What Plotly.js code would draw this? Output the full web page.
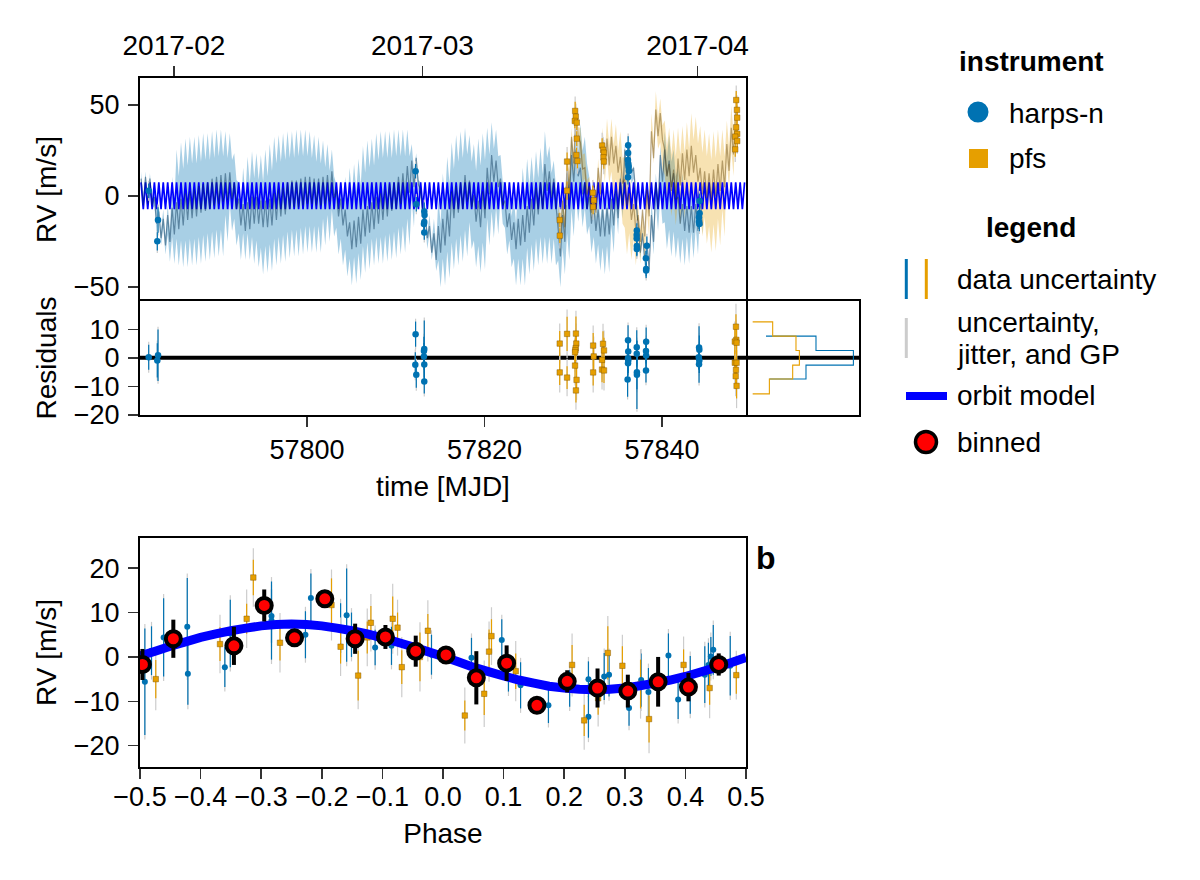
<!DOCTYPE html>
<html><head><meta charset="utf-8">
<script src="https://cdn.plot.ly/plotly-3.0.1.min.js"></script>
<style>html,body{margin:0;padding:0;background:#fff}#plot{width:1200px;height:880px}</style>
</head><body><div id="plot"></div>
<script>
const modelEpoch = 57781;
const modelDay = [.3,.55,.8,
1.05,1.3,1.55,1.8,2.05,2.3,2.55,2.8,3.05,3.3,3.55,3.8,4.05,4.3,4.55,4.8,5.05,5.3,5.55,5.8,
6.05,6.3,6.55,6.8,7.05,7.3,7.55,7.8,8.05,8.3,8.55,8.8,9.05,9.3,9.55,9.8,10.05,10.3,10.55,10.8,
11.05,11.3,11.55,11.8,12.05,12.3,12.55,12.8,13.05,13.3,13.55,13.8,14.05,14.3,14.55,14.8,15.05,15.3,15.55,15.8,
16.05,16.3,16.55,16.8,17.05,17.3,17.55,17.8,18.05,18.3,18.55,18.8,19.05,19.3,19.55,19.8,20.05,20.3,20.55,20.8,
21.05,21.3,21.55,21.8,22.05,22.3,22.55,22.8,23.05,23.3,23.55,23.8,24.05,24.3,24.55,24.8,25.05,25.3,25.55,25.8,
26.05,26.3,26.55,26.8,27.05,27.3,27.55,27.8,28.05,28.3,28.55,28.8,29.05,29.3,29.55,29.8,30.05,30.3,30.55,30.8,
31.05,31.3,31.55,31.8,32.05,32.3,32.55,32.8,33.05,33.3,33.55,33.8,34.05,34.3,34.55,34.8,35.05,35.3,35.55,35.8,
36.05,36.3,36.55,36.8,37.05,37.3,37.55,37.8,38.05,38.3,38.55,38.8,39.05,39.3,39.55,39.8,40.05,40.3,40.55,40.8,
41.05,41.3,41.55,41.8,42.05,42.3,42.55,42.8,43.05,43.3,43.55,43.8,44.05,44.3,44.55,44.8,45.05,45.3,45.55,45.8,
46.05,46.3,46.55,46.8,47.05,47.3,47.55,47.8,48.05,48.3,48.55,48.8,49.05,49.3,49.55,49.8,50.05,50.3,50.55,50.8,
51.05,51.3,51.55,51.8,52.05,52.3,52.55,52.8,53.05,53.3,53.55,53.8,54.05,54.3,54.55,54.8,55.05,55.3,55.55,55.8,
56.05,56.3,56.55,56.8,57.05,57.3,57.55,57.8,58.05,58.3,58.55,58.8,59.05,59.3,59.55,59.8,60.05,60.3,60.55,60.8,
61.05,61.3,61.55,61.8,62.05,62.3,62.55,62.8,63.05,63.3,63.55,63.8,64.05,64.3,64.55,64.8,65.05,65.3,65.55,65.8,
66.05,66.3,66.55,66.8,67.05,67.3,67.55,67.8,68.05,68.3];
const orbitPeakRV = 7.5, orbitTroughRV = -7.2;

const blueMean = [2,3,2,-8,-16,-20,-18,-14,-11,-9,
-6,-5,-4,-2,-1,0,2,3,4,5,
5.5,0,-9,-12,-11,-8,-8,-10,-10,-9,
-6,-4,-3,0,1,1,2,3,3,2,
2,3,4,6,-4,-9,-15,-22,-21,-19,
-15,-13,-11,-8,-6,-4,-1,0,3,5,
9,12,13.5,-4,-16,-24,-28,-24,-20,-15,
-5,-2,0,4,1,-7,-10,-5,8,15,
12,2,-10,-17,-22,-20,-18,-13,-9,-3,
0,10,6,2,-26,-18,5,15,18,8,
0,-8,-12,-15,-15,-14,-9,-5,2,18,
20,8,-24,-28,-33,-18,0,15,18,12,
5,-8,-12,-13,-13,-12,-9];
const blueUpper = [6,6,5,0,-12,-15,-12,3,18,22,
24,25,25,26,27,27,28,29,29,28,
27,16,0,8,14,17,16,15,18,21,
25,26,27,28,28,29,29,29,28,26,
25,23,21,18,-1,0,3,8,10,13,
20,23,24,27,28,28,28,29,29,29,
29,21,16,0,-13,-18,-20,-8,5,14,
22,26,28,30,26,21,24,27,30,33,
29,15,0,-4,-8,0,8,13,14,17,
19,28,20,12,-10,-8,10,25,32,32,
25,3,-4,-6,-7,-6,-3,0,6,21,
21,9,-22,-26,-30,-10,5,20,28,26,
18,8,5,3,-2,-4,-8];
const blueLower = [-1,0,0,-13,-20,-25,-29,-30,-31,-32,
-32,-31,-31,-30,-29,-28,-27,-26,-26,-18,
-12,-20,-28,-28,-28,-30,-32,-36,-35,-34,
-31,-30,-29,-27,-26,-26,-25,-24,-24,-24,
-24,-20,-18,-15,-25,-31,-37,-42,-41,-39,
-35,-33,-31,-30,-30,-29,-28,-27,-25,-24,
-20,-10,8,-9,-22,-28,-34,-43,-42,-38,
-33,-31,-29,-26,-22,-32,-35,-33,-20,-16,
-14,-8,-25,-32,-42,-42,-42,-36,-34,-31,
-30,-30,-30,-31,-43,-36,-28,-15,-7,-10,
-14,-24,-30,-34,-36,-35,-24,-14,-5,10,
14,2,-27,-32,-37,-25,-12,-8,-22,-26,
-27,-30,-31,-30,-27,-25,-14];
const orangeStartCycle = 94;
const orangeMean = [-17,-10,11,25,40,22,8,-2,-2,8,24,24,25,20,14,2,-6,-12,-18,-15,-4,28,40,38,18,10,7,13,16,18,20,15,8,6,5,7,10,12,21,30,39];
const orangeUpper = [-10,-5,20,30,45,30,16,3,2,13,30,35,35,32,28,14,8,1,-12,-15,0,38,50,46,34,30,29,30,31,33,38,36,31,29,27,28,29,29,34,42,51];
const orangeLower = [-24,-16,3,18,36,15,2,-7,-6,2,15,14,6,2,-8,-25,-28,-31,-30,-28,-16,25,33,22,4,-4,-9,-9,-5,-2,-2,-4,-15,-19,-24,-23,-20,-15,11,18,30];

const harpsT = [57782.16,57783.21,57783.13,57812.23,57812.31,57813.21,57813.24,57813.17,57813.21,57813.21,
57836.18,57836.18,57836.16,57836.2,57836.24,57836.26,57836.16,57837.16,57837.14,57837.14,57837.16,57837.16,
57838.29,57838.18,57838.21,57838.21,57844.23,57844.23,57844.16,57844.16,57844.2];
const harpsRV = [2.9,-13.2,-24.9,13.6,-4.6,-8.6,-10.4,-15.4,-14.3,-20.1,
27.8,23.6,19.8,17.6,16.1,13.7,10.3,-19,-21.4,-23.3,-27.5,-29.1,
-27.3,-34.2,-40.1,-41,-2.7,-9.5,-11.7,-14.1,-15.4];
const harpsErr = [4,7,5,4,4,5,4,4,4,4,5,4,4,4,4,4,4,4,4,4,5,4,5,4,4,4,4,4,4,4,4];
const pfsT = [57828.48,57828.48,57829.3,57829.3,57830.21,57830.28,57830.17,57830.39,57830.39,57830.36,57830.47,
57832.2,57832.31,57832.23,57833.25,57833.37,57833.44,57833.4,57833.44,
57848.36,57848.44,57848.47,57848.36,57848.47,57848.25,57848.47,57848.25];
const pfsRV = [-13.2,-21.8,18.9,2.9,46.7,43.6,41.2,40.3,31.5,22.5,19.2,
1.8,-2.4,-6,27.7,25.3,23.8,21.2,18.9,
52.7,47.3,43,37.7,34.1,32.6,30.2,25.6];
const pfsErr = [4,4,5,5,5,4,4,4,4,4,4,4,4,4,4,4,4,4,4,5,5,4,4,4,4,4,4];
const pfsErrGP = [7,7,8,8,8,7,7,7,7,7,7,7,7,7,7,7,7,7,7,8,8,7,7,7,7,7,7];

const resHarpsT = [57782.16,57783.21,57783.13,57812.23,57812.2,57812.31,57813.21,57813.17,57813.17,57813.21,57813.21,
57836.17,57836.19,57836.17,57836.19,57836.17,57836.12,57837.15,57837.15,57837.17,57837.17,
57838.21,57838.19,57838.21,57838.19,57844.17,57844.2,57844.14,57844.2,57844.17];
const resHarpsVal = [0.2,0.9,-0.9,8.3,-2.4,-5.9,3.1,2.4,0.5,-2.3,-8.3,
6.2,2.2,-0.1,-0.9,-1.9,-7.6,3.7,1.4,-5,-5.9,5.6,2.4,0.8,-4.4,3.6,2.8,0.2,-0.9,-2.2];
const resHarpsErr = [4.4,9,6,4.4,4.4,4.6,10,5,4.7,5.3,4.2,
5.2,4.4,4.4,4.4,4.4,6,6,4.5,6,12,5,4.4,4.4,4.2,7.5,5,4.4,4.4,6.5];
const resPfsT = [57828.47,57828.47,57829.3,57829.3,57830.3,57830.34,57830.27,57830.24,57830.2,57830.2,57830.37,57830.3,
57832.24,57832.3,57832.24,57833.35,57833.46,57833.24,57833.24,57833.46,
57848.33,57848.37,57848.2,57848.4,57848.2,57848.4,57848.33,57848.3,57848.4];
const resPfsVal = [5,-5.1,8.4,-6.9,8.5,5,3.4,2.7,2,-2.7,-7.7,-11.4,4.3,0.5,-5.1,4.9,2.6,-0.7,-4.1,-4.4,
10.9,6.3,5.7,5.3,-1.7,-1.7,-4.2,-6.4,-9.8];
const resPfsErr = [4.4,4.4,6,4,6,4.4,4.4,4.4,4.4,4.4,4.4,4.2,4.4,4.4,4.6,4.4,4.4,4.4,4.4,4.4,4.4,4.4,4.4,4.4,4.4,4.4,4.4,4.4,4.4];
const resPfsErrGP = [7,7,8.5,6.5,8,7,7,7,7,7,7,6.8,7,7,7,7,7,7,7,7,8,7,7,7,7,7,7,7,7.8];

const histEdge = [12.6,7.6,2.56,-2.56,-7.4,-12.6];
const histHarps = [1.33,6.33,10.07,5.33,1.67];
const histPfs = [2,4.33,4.67,4,1.67];

const phHarps = [-.492,-.481,-.461,-.422,-.421,-.36,-.351,-.283,-.283,-.227,-.218,-.169,-.159,-.151,-.112,-.085,-.019,
.047,.097,.108,.128,.174,.209,.24,.24,.266,.274,.307,.327,.339,.372,.388,.408,.432,.438,.442,.446,.474];
const phHarpsRV = [-5.6,1.4,4.4,6.8,-3.8,-2.3,5.3,9.2,8.2,5,13.3,6.5,9.4,5,2.1,2.5,.5,
-.2,3.8,-4.4,-6.4,-10.9,-7.1,-5,-13.5,-4.4,-4,-11.5,-5.2,-7.9,.3,-9.6,-6.3,-4,-1.8,.1,1.6,-2];
const phHarpsErr = [12,5.5,8.8,11,7,4.5,7.6,6,8.8,5.3,5.5,5.6,10.5,5,4,4.3,4.5,
4.5,4.7,3.4,5.2,4,4.1,4,4.7,5.3,4.9,4,6,5.4,5,4.4,6.5,6.4,5,4.4,5.6,6.7];
const phPfs = [-.474,-.368,-.324,-.313,-.269,-.184,-.169,-.14,-.125,-.119,-.083,-.075,-.068,-.038,-.025,
.036,.068,.076,.08,.12,.213,.233,.256,.272,.296,.326,.34,.397,.44,.484];
const phPfsRV = [-5,2.9,8.6,17.9,3.2,11.7,2.3,-4.2,4.4,7.7,8.6,6.6,-2.3,0,5.9,
-13.2,-8.3,1.2,4.7,-3.2,-1.8,-14.3,-9.3,.9,-2,-6.1,-14,-1.8,-7,-4.1];
const phPfsErr = [4.3,3.8,3.4,4,4,6,3.8,5.6,3.6,3.8,5,3.4,3.8,5.5,3.8,
3.4,4.8,5,3.8,4,4.5,3.5,3.7,6,4.4,5.5,5.3,3.5,3.8,4.2];
const phPfsErrGP = [7,6.6,6.6,6.6,6.7,8,6.6,7.6,6.5,6.5,7.9,6.3,6.8,7.8,6.9,
6.3,7.5,6.8,6.5,6.8,7.1,6.6,6.4,8.3,7,7.8,7.7,6.4,6.8,5.5];
const binPhase = [-.496,-.445,-.345,-.295,-.245,-.195,-.145,-.095,-.045,.005,.055,.105,.155,.205,.255,.305,.355,.405,.455];
const binRV = [-1.7,4.1,2.5,11.6,4.3,13.1,4.1,4.5,1.3,.45,-4.7,-1.4,-10.9,-5.5,-7,-7.7,-5.6,-6.8,-1.7];
const binErr = [3.5,4.3,4.3,3.6,0,0,3.4,2.7,3.5,0,6,4,0,2.5,4.4,3.7,5.6,3.2,2.5];
const orbitPhase = [-.5,-.475,-.45,-.425,-.4,-.375,-.35,-.325,-.3,-.275,-.25,-.225,-.2,-.175,-.15,-.125,-.1,-.075,-.05,-.025,
0,.025,.05,.075,.1,.125,.15,.175,.2,.225,.25,.275,.3,.325,.35,.375,.4,.425,.45,.475,.5];
const orbitPhaseRV = [.2,1.3,2.4,3.4,4.4,5.2,5.9,6.5,7,7.3,7.4,7.3,7,6.5,5.9,5.2,4.3,3.3,2.3,1.2,
.1,-1.1,-2.3,-3.3,-4.3,-5.2,-5.9,-6.6,-7,-7.3,-7.4,-7.3,-7,-6.5,-5.9,-5.2,-4.4,-3.4,-2.4,-1.3,-.1];

const BLUE='#0072b2', ORANGE='#e69f00', GREY='#cccccc', FONT='Liberation Sans';
const traces=[];
const vx=i=>modelEpoch+modelDay[i];
const vo=i=>i%2===0?orbitPeakRV:orbitTroughRV;
function cycleLine(start,arr){const x=[],y=[];arr.forEach((v,j)=>{const k=start+j;
  [2*k,2*k+1].forEach(i=>{if(i<modelDay.length){x.push(vx(i));y.push(v+vo(i));}});});return {x,y};}
function band(start,up,lo,fill){const a=cycleLine(start,up),b=cycleLine(start,lo);
  traces.push({type:'scatter',mode:'lines',x:a.x.concat(b.x.slice().reverse()),y:a.y.concat(b.y.slice().reverse()),
   fill:'toself',fillcolor:fill,line:{width:0,simplify:false},hoverinfo:'skip',showlegend:false,xaxis:'x',yaxis:'y'});}
function line(x,y,color,width,xa,ya){traces.push({type:'scatter',mode:'lines',x,y,line:{color,width,simplify:false},hoverinfo:'skip',showlegend:false,xaxis:xa,yaxis:ya});}
function err(x,y,e,color,th,xa,ya){traces.push({type:'scatter',mode:'markers',x,y,marker:{size:1,opacity:0},
   error_y:{type:'data',array:e,visible:true,thickness:th,width:0,color},hoverinfo:'skip',showlegend:false,xaxis:xa,yaxis:ya});}
function pts(x,y,sym,color,size,xa,ya){traces.push({type:'scatter',mode:'markers',x,y,marker:{symbol:sym,size,color,line:{width:sym==='square'?0.6:0,color:'rgba(120,80,0,0.7)'}},hoverinfo:'skip',showlegend:false,xaxis:xa,yaxis:ya});}

band(0,blueUpper,blueLower,'rgba(0,114,178,0.34)');
band(orangeStartCycle,orangeUpper,orangeLower,'rgba(230,159,0,0.30)');
line(modelDay.map(d=>modelEpoch+d),modelDay.map((d,i)=>vo(i)),'#0000ff',1.7,'x','y');
let m=cycleLine(0,blueMean); line(m.x,m.y,'rgba(0,45,80,0.45)',1.2,'x','y');
m=cycleLine(orangeStartCycle,orangeMean); line(m.x,m.y,'rgba(90,60,0,0.42)',1.2,'x','y');
err(harpsT,harpsRV,harpsErr.map(e=>e+1.5),GREY,1.2,'x','y');
err(harpsT,harpsRV,harpsErr,BLUE,1.2,'x','y');
err(pfsT,pfsRV,pfsErrGP,GREY,1.2,'x','y');
err(pfsT,pfsRV,pfsErr,ORANGE,1.2,'x','y');
pts(harpsT,harpsRV,'circle',BLUE,6.5,'x','y');
pts(pfsT,pfsRV,'square',ORANGE,5.5,'x','y');

// residual panel
line([57781.18,57849.46],[0,0],'#000',4,'x3','y3');
err(resHarpsT,resHarpsVal,resHarpsErr.map(e=>e+1),GREY,1.2,'x3','y3');
err(resHarpsT,resHarpsVal,resHarpsErr,BLUE,1.2,'x3','y3');
err(resPfsT,resPfsVal,resPfsErrGP,GREY,1.2,'x3','y3');
err(resPfsT,resPfsVal,resPfsErr,ORANGE,1.2,'x3','y3');
pts(resHarpsT,resHarpsVal,'circle',BLUE,6.5,'x3','y3');
pts(resPfsT,resPfsVal,'square',ORANGE,5.5,'x3','y3');

// histogram panel
line([-0.667,10.63],[0,0],'#000',4,'x4','y4');
function steps(vals,edges){const x=[],y=[];vals.forEach((v,i)=>{x.push(v,v);y.push(edges[i],edges[i+1]);});return {x,y};}
let h=steps(histHarps,histEdge); line(h.x.slice(1,-1),h.y.slice(1,-1),BLUE,1.1,'x4','y4');
h=steps(histPfs,histEdge); line([0].concat(h.x,[0]),[histEdge[0]].concat(h.y,[histEdge[5]]),ORANGE,1.1,'x4','y4');

// phase panel
err(phHarps,phHarpsRV,phHarpsErr.map(e=>e+1),GREY,1.2,'x5','y5');
err(phHarps,phHarpsRV,phHarpsErr,BLUE,1.2,'x5','y5');
err(phPfs,phPfsRV,phPfsErrGP,GREY,1.2,'x5','y5');
err(phPfs,phPfsRV,phPfsErr,ORANGE,1.2,'x5','y5');
pts(phHarps,phHarpsRV,'circle',BLUE,6,'x5','y5');
pts(phPfs,phPfsRV,'square',ORANGE,5.5,'x5','y5');
line(orbitPhase,orbitPhaseRV,'#0000ff',9,'x5','y5');
traces.push({type:'scatter',mode:'markers',x:binPhase,y:binRV,cliponaxis:true,xaxis:'x5',yaxis:'y5',hoverinfo:'skip',showlegend:false,
  marker:{symbol:'circle',size:15,color:'#ff0000',line:{width:4,color:'#000'}},
  error_y:{type:'data',array:binErr,visible:true,thickness:4,width:0,color:'#000'}});

const W=1200,H=880, fx=p=>p/W, fy=p=>1-p/H;
const tickF={family:FONT,size:27,color:'#000'};
const base={showline:true,mirror:true,linecolor:'#000',linewidth:2,zeroline:false,showgrid:false,ticks:'outside',ticklen:10,tickwidth:1.5,tickcolor:'#333',
  tickfont:tickF,automargin:false};
const tfont={family:FONT,size:28,color:'#000'};
const layout={width:W,height:H,margin:{l:0,r:0,t:0,b:0},paper_bgcolor:'#fff',plot_bgcolor:'#fff',showlegend:false,font:tfont,
 xaxis:{...base,mirror:false,domain:[fx(140),fx(746)],range:[57781.18,57849.46],anchor:'y',side:'top',tickmode:'array',tickvals:[57785,57813,57844],ticktext:['2017-02','2017-03','2017-04'],tickfont:{family:FONT,size:28,color:'#000'},ticklabelstandoff:0},
 yaxis:{...base,domain:[fy(301),fy(78)],range:[-57.7,64.8],anchor:'x',tickvals:[-50,0,50],ticklabelstandoff:3,title:{text:'RV [m/s]',font:tfont,standoff:9}},
 xaxis3:{...base,domain:[fx(140),fx(746)],range:[57781.18,57849.46],anchor:'y3',tickvals:[57800,57820,57840],tickformat:'d',title:{text:'time [MJD]',font:tfont,standoff:12}},
 yaxis3:{...base,domain:[fy(415),fy(301)],range:[-20,19.9],anchor:'x3',tickvals:[-20,-10,0,10],ticklabelstandoff:3,title:{text:'Residuals',font:tfont,standoff:9}},
 xaxis4:{...base,domain:[fx(746),fx(859)],range:[-0.667,10.63],anchor:'y4',ticks:'',showticklabels:false},
 yaxis4:{...base,mirror:false,side:'right',domain:[fy(415),fy(301)],range:[-20,19.9],anchor:'x4',ticks:'',showticklabels:false},
 xaxis5:{...base,domain:[fx(140),fx(746)],range:[-.5,.5],anchor:'y5',tickvals:[-.5,-.4,-.3,-.2,-.1,0,.1,.2,.3,.4,.5],tickformat:'.1f',ticklabelstandoff:-5,title:{text:'Phase',font:tfont,standoff:12}},
 yaxis5:{...base,domain:[fy(767),fy(538)],range:[-24.8,26.8],anchor:'x5',tickvals:[-20,-10,0,10,20],ticklabelstandoff:3,title:{text:'RV [m/s]',font:tfont,standoff:9}},
 shapes:[
  {type:'circle',xref:'paper',yref:'paper',x0:fx(967.5),x1:fx(988.5),y0:fy(122.5),y1:fy(101.5),fillcolor:BLUE,line:{width:0}},
  {type:'rect',xref:'paper',yref:'paper',x0:fx(969),x1:fx(988),y0:fy(168),y1:fy(149),fillcolor:ORANGE,line:{width:0}},
  {type:'line',xref:'paper',yref:'paper',x0:fx(906.3),x1:fx(906.3),y0:fy(259),y1:fy(299),line:{color:BLUE,width:3}},
  {type:'line',xref:'paper',yref:'paper',x0:fx(926.3),x1:fx(926.3),y0:fy(259),y1:fy(299),line:{color:ORANGE,width:3}},
  {type:'line',xref:'paper',yref:'paper',x0:fx(906.3),x1:fx(906.3),y0:fy(318),y1:fy(358),line:{color:GREY,width:3}},
  {type:'line',xref:'paper',yref:'paper',x0:fx(906),x1:fx(947),y0:fy(396),y1:fy(396),line:{color:'#0000ff',width:8}},
  {type:'circle',xref:'paper',yref:'paper',x0:fx(915.5),x1:fx(936.5),y0:fy(452.5),y1:fy(431.5),fillcolor:'#ff0000',line:{color:'#000',width:3.5}}
 ],
 annotations:[
  {t:'<b>instrument</b>',x:1031,y:61,c:1,s:28},{t:'<b>legend</b>',x:1031,y:228,c:1,s:28},
  {t:'harps-n',x:1008,y:113},{t:'pfs',x:1008,y:158},{t:'data uncertainty',x:956,y:280},
  {t:'uncertainty,',x:956,y:322},{t:'jitter, and GP',x:956,y:354},{t:'orbit model',x:956,y:396},{t:'binned',x:956,y:442},
  {t:'<b>b</b>',x:755,y:558,s:32}
 ].map(a=>({text:a.t,xref:'paper',yref:'paper',x:fx(a.x),y:fy(a.y),xanchor:a.c?'center':'left',yanchor:'middle',showarrow:false,align:'left',
     font:{family:FONT,size:a.s||28,color:'#000'},borderpad:0,xshift:0}))
};
Plotly.newPlot('plot',traces,layout,{displayModeBar:false,staticPlot:true});
</script></body></html>
